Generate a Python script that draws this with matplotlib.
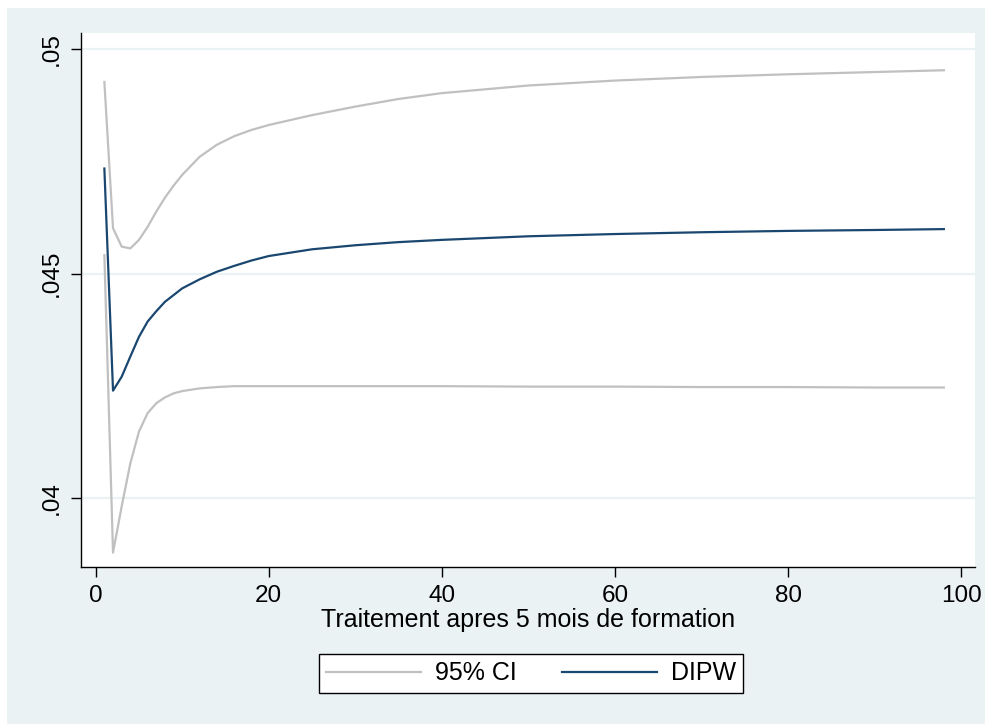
"""DIPW estimate with 95% CI, Stata-like look."""

import matplotlib

matplotlib.use("Agg")
import matplotlib.pyplot as plt
from matplotlib.patches import Rectangle
from matplotlib.ticker import FixedLocator

plt.rcParams["font.family"] = ["Liberation Sans", "DejaVu Sans"]

BG = "#EAF2F3"
NAVY = "#1A476F"
GREY = "#C0C0C0"

# values
months = [1, 2, 3, 4, 5, 6, 7, 8, 9, 10, 12, 14, 16, 18, 20, 25, 30, 35, 40, 50, 60, 70, 80, 90, 98]
dipw = [0.04734, 0.04239, 0.04270, 0.04315, 0.04359, 0.04393, 0.04416, 0.04437, 0.04452,
        0.04467, 0.04487, 0.04504, 0.04517, 0.04529, 0.04539, 0.04554, 0.04563, 0.04570,
        0.04575, 0.04583, 0.04588, 0.04592, 0.04595, 0.04597, 0.04599]
ci_upper = [0.04927, 0.04601, 0.04560, 0.04556, 0.04575, 0.04604, 0.04638, 0.04669, 0.04696,
            0.04720, 0.04760, 0.04787, 0.04806, 0.04820, 0.04831, 0.04853, 0.04872, 0.04889,
            0.04902, 0.04919, 0.04930, 0.04938, 0.04944, 0.04949, 0.04953]
ci_lower = [0.04541, 0.03878, 0.03981, 0.04077, 0.04148, 0.04189, 0.04211, 0.04224, 0.04233,
            0.04238, 0.04244, 0.04247, 0.04249, 0.04249, 0.04249, 0.04249, 0.04249, 0.04249,
            0.04249, 0.04248, 0.04248, 0.04247, 0.04247, 0.04246, 0.04246]

x_ticks = [0, 20, 40, 60, 80, 100]
y_ticks = [0.04, 0.045, 0.05]
y_labels = [".04", ".045", ".05"]

W, H = 985, 724
fig = plt.figure(figsize=(W / 100, H / 100), dpi=100, facecolor="white")
fig.patches.append(Rectangle((7 / W, 0), 1 - 7 / W, 1 - 8 / H, transform=fig.transFigure,
                             facecolor=BG, edgecolor="none", zorder=-10))

ax = fig.add_axes([81 / W, 1 - 567 / H, (975 - 81) / W, (567 - 33) / H])
ax.set_facecolor("white")

ax.plot(months, ci_upper, color=GREY, linewidth=1.6, label="95% CI")
ax.plot(months, ci_lower, color=GREY, linewidth=1.6)
ax.plot(months, dipw, color=NAVY, linewidth=1.6, label="DIPW")

ax.set_xlim(-1.7, 101.6)
ax.set_ylim(0.03846, 0.05036)
ax.xaxis.set_major_locator(FixedLocator(x_ticks))
ax.set_xticklabels([str(t) for t in x_ticks])
ax.yaxis.set_major_locator(FixedLocator(y_ticks))
ax.set_yticklabels(y_labels, rotation=90, va="center")

for t in y_ticks:
    ax.axhline(t, color=BG, linewidth=1.6, zorder=0)

for side in ("top", "right"):
    ax.spines[side].set_visible(False)
for side in ("left", "bottom"):
    ax.spines[side].set_linewidth(1.0)
ax.tick_params(axis="both", length=7, width=1, labelsize=17.5, pad=6)

ax.set_xlabel("Traitement apres 5 mois de formation", fontsize=18, labelpad=1)

leg = ax.legend(loc="center", bbox_to_anchor=(531 / W, 1 - 673.5 / H),
                bbox_transform=fig.transFigure, ncol=2, fontsize=18, frameon=True,
                fancybox=False, edgecolor="black", facecolor="white", framealpha=1,
                handlelength=3.8, handletextpad=0.55, columnspacing=1.8,
                borderpad=0.3, borderaxespad=0)
leg.get_frame().set_linewidth(1.0)

fig.savefig("out.png", dpi=100, facecolor=fig.get_facecolor())
